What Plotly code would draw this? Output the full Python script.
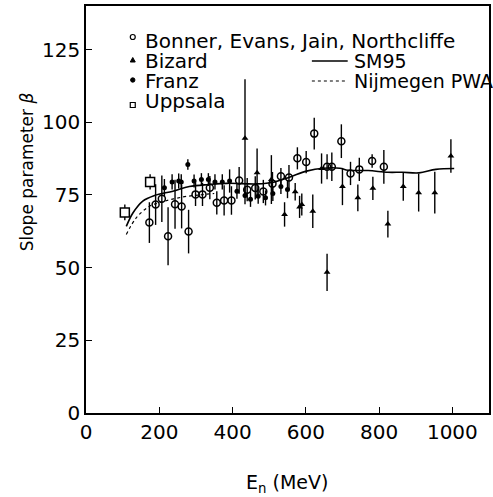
import plotly.graph_objects as go

# ---- data ----
bonner_E = [173, 190, 207, 224, 243, 261, 280, 299, 318, 338, 357, 377, 397, 418, 440,
            462, 484, 509, 532, 554, 577, 601, 623, 658, 671, 697, 722, 746, 781, 813]
bonner_b = [65.5, 71.7, 73.7, 60.8, 71.8, 71.0, 62.4, 75.2, 75.2, 77.5, 72.3, 73.1, 73.1, 80.0, 76.8,
            77.4, 76.2, 78.9, 81.4, 81.0, 87.6, 86.3, 96.1, 84.7, 84.7, 93.5, 82.4, 83.8, 86.7, 84.7]
bonner_err = [7, 7, 8, 10, 8.4, 7.5, 7.5, 4, 4, 4, 4, 5.2, 4.9, 4.6, 4,
              4, 4, 4, 2.9, 4.3, 3.8, 3.8, 5.5, 4.3, 4.9, 5.8, 4, 4, 2.3, 5.8]

bizard_E = [434, 467, 506, 542, 571, 583, 589, 619, 643, 658, 700, 742, 783, 824, 866, 908, 952, 996]
bizard_b = [94.5, 82.6, 80.3, 68.3, 76.1, 70.9, 71.7, 69.4, 84.1, 48.4, 77.9, 74.0, 77.3, 65.0, 77.9, 75.8, 75.8, 88.4]
bizard_err = [20.3, 8.4, 8.4, 4.2, 3, 3.8, 3.8, 5.8, 5.2, 6.4, 6.4, 4.6, 4, 4.6, 4.9, 6.5, 7.2, 5.8]

franz_E = [214, 235, 253, 260, 278, 295, 315, 334, 352, 372, 392, 412, 434, 449, 470, 490, 510, 532, 550]
franz_b = [77.5, 79.5, 79.8, 79.5, 85.5, 79.8, 80.3, 80.3, 79.5, 79.5, 79.8, 76.3, 74.8, 73.5, 74.6, 74.0, 75.5, 77.9, 76.9]
franz_err = [3, 2.6, 2.6, 2.6, 1.8, 2.2, 2.2, 2.2, 2.6, 2.6, 4, 2.6, 3, 2.6, 2.6, 2.6, 2.6, 2.6, 3]

uppsala_E = [106, 175]
uppsala_b = [69.0, 79.5]
uppsala_err = [2.7, 2.6]

sm95_E = [110, 128, 155, 187, 237, 282, 336, 385, 467, 512, 557, 602, 648, 693, 715, 770, 824, 864, 909, 955, 1005]
sm95_b = [64.2, 68.8, 72.9, 74.8, 76.3, 77.9, 78.6, 79.0, 78.8, 79.4, 81.2, 83.2, 84.2, 84.2, 83.5, 83.4, 82.8, 82.8, 82.6, 83.8, 84.1]

nijm_E = [110, 137, 173, 210, 264, 309, 350]
nijm_b = [61.4, 67.1, 71.1, 72.7, 74.3, 75.0, 75.5]

x_ticks = [0, 200, 400, 600, 800, 1000]
y_ticks = [0, 25, 50, 75, 100, 125]
legend_names = ["Bonner, Evans, Jain, Northcliffe", "Bizard", "Franz", "Uppsala"]
line_names = ["SM95", "Nijmegen PWA"]

# ---- layout geometry ----
W, H = 493, 497
L, R, T, B = 86, 2, 6, 84
PW, PH = W - L - R, H - T - B
FONT = "DejaVu Sans"


def px(x):
    return (x - L) / PW


def py(y):
    return (H - B - y) / PH


eb = dict(type="data", thickness=1.4, width=0, color="black")
fig = go.Figure()
fig.add_trace(go.Scatter(x=sm95_E, y=sm95_b, mode="lines", line=dict(color="black", width=1.6, shape="spline"),
                         showlegend=False))
fig.add_trace(go.Scatter(x=nijm_E, y=nijm_b, mode="lines", line=dict(color="black", width=1.2, dash="dot", shape="spline"),
                         showlegend=False))
fig.add_trace(go.Scatter(x=franz_E, y=franz_b, mode="markers", error_y=dict(array=franz_err, **eb),
                         marker=dict(symbol="circle", size=5, color="black"), showlegend=False))
fig.add_trace(go.Scatter(x=bizard_E, y=bizard_b, mode="markers", error_y=dict(array=bizard_err, **eb),
                         marker=dict(symbol="triangle-up", size=6, color="black"), showlegend=False))
fig.add_trace(go.Scatter(x=bonner_E, y=bonner_b, mode="markers", error_y=dict(array=bonner_err, **eb),
                         marker=dict(symbol="circle-open", size=7, color="black", line=dict(width=1.5)),
                         showlegend=False))
fig.add_trace(go.Scatter(x=uppsala_E, y=uppsala_b, mode="markers", error_y=dict(array=uppsala_err, **eb),
                         marker=dict(symbol="square", size=9, color="white", line=dict(width=1.5, color="black")),
                         showlegend=False))

ann = []
shapes = []
# legend column 1
rows_y = [41, 61, 81, 101]
for name, yy in zip(legend_names, rows_y):
    ann.append(dict(x=px(143), y=py(yy), xref="paper", yref="paper", text=name, showarrow=False,
                    xanchor="left", yanchor="middle", font=dict(family=FONT, size=20, color="black")))
# keys
kx = 133
shapes.append(dict(type="circle", xref="paper", yref="paper", x0=px(kx - 2.5), x1=px(kx + 2.5),
                   y0=py(37 + 2.5), y1=py(37 - 2.5), line=dict(color="black", width=1.2), fillcolor="white"))
shapes.append(dict(type="path", xref="paper", yref="paper",
                   path=f"M {px(kx-2.5)} {py(62)} L {px(kx+2.5)} {py(62)} L {px(kx)} {py(57.5)} Z",
                   line=dict(color="black", width=1), fillcolor="black"))
shapes.append(dict(type="circle", xref="paper", yref="paper", x0=px(kx - 2.2), x1=px(kx + 2.2),
                   y0=py(80 + 2.2), y1=py(80 - 2.2), line=dict(color="black", width=1), fillcolor="black"))
shapes.append(dict(type="rect", xref="paper", yref="paper", x0=px(kx - 2.5), x1=px(kx + 2.5),
                   y0=py(105 + 2.5), y1=py(105 - 2.5), line=dict(color="black", width=1.2), fillcolor="white"))
# legend column 2
for name, yy, dash in zip(line_names, [61, 81], ["solid", "dot"]):
    shapes.append(dict(type="line", xref="paper", yref="paper", x0=px(313), x1=px(349), y0=py(yy), y1=py(yy),
                       line=dict(color="black", width=1.5 if dash == "solid" else 1.1, dash=dash)))
    ann.append(dict(x=px(353), y=py(yy), xref="paper", yref="paper", text=name, showarrow=False,
                    xanchor="left", yanchor="middle", font=dict(family=FONT, size=19, color="black")))
# axis titles
ann.append(dict(x=px(27), y=py(172), xref="paper", yref="paper", text="Slope parameter <i>β</i>", textangle=-90,
                showarrow=False, xanchor="center", yanchor="middle", font=dict(family=FONT, size=17, color="black")))
ann.append(dict(x=px(288), y=py(483), xref="paper", yref="paper", text="E<sub>n</sub> (MeV)",
                showarrow=False, xanchor="center", yanchor="middle", font=dict(family=FONT, size=19, color="black")))

axis_common = dict(showline=True, mirror=True, linecolor="black", linewidth=1.6, ticks="inside", ticklen=6,
                   tickwidth=1.3, tickcolor="black", showgrid=False, zeroline=False,
                   tickfont=dict(family=FONT, size=20, color="black"))
fig.update_layout(
    width=W, height=H, margin=dict(l=L, r=R, t=T, b=B),
    paper_bgcolor="white", plot_bgcolor="white",
    xaxis=dict(range=[0, 1100], tickvals=x_ticks, **axis_common),
    yaxis=dict(range=[0, 140], tickvals=y_ticks, **axis_common),
    annotations=ann, shapes=shapes, showlegend=False,
)
fig.write_html("out.html")
